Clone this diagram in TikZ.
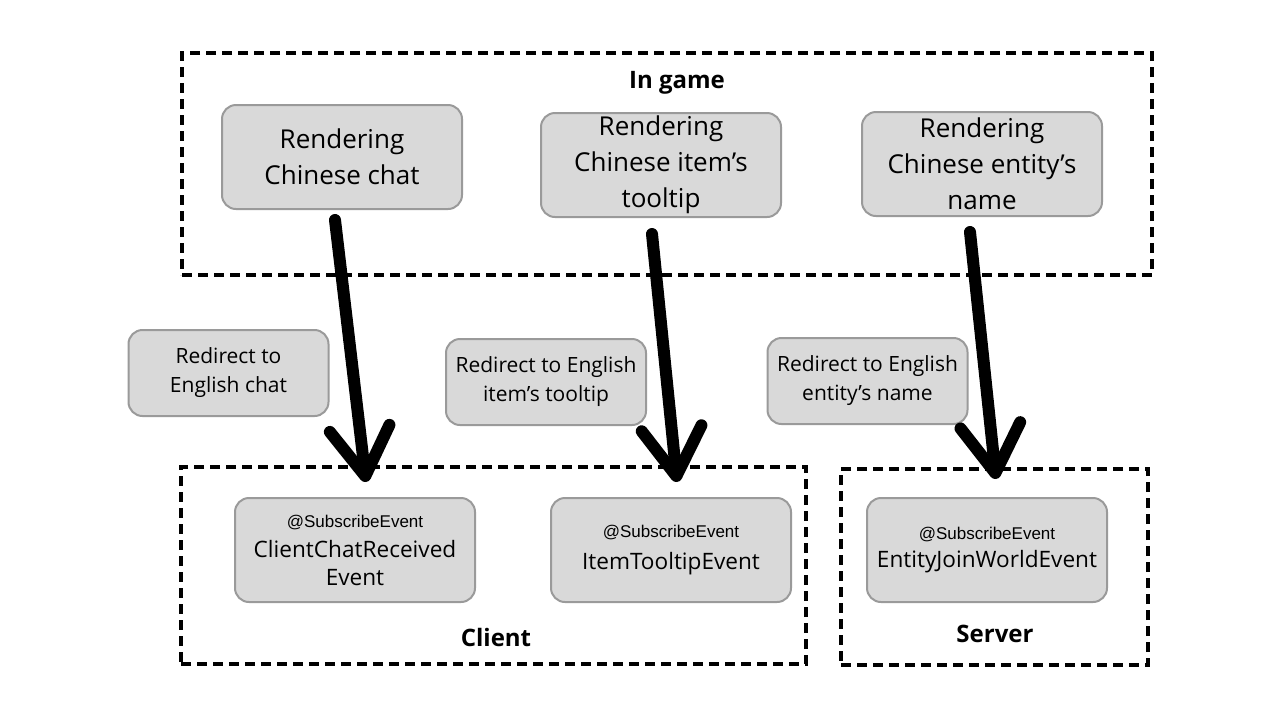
\documentclass[tikz,border=0pt]{standalone}
\usepackage{fontspec}
\setmainfont{Open Sans}
\newfontfamily\arialf{Liberation Sans}
\usetikzlibrary{arrows.meta}
\definecolor{boxfill}{HTML}{D9D9D9}
\definecolor{boxline}{HTML}{9A9A9A}
\begin{document}
\begin{tikzpicture}[x=0.5pt,y=-0.5pt,
  box/.style={draw=boxline, fill=boxfill, line width=1pt, rounded corners=7pt, inner sep=0pt, align=center},
  bigbox/.style={box, minimum width=120pt, minimum height=52pt, font=\fontsize{13}{18}\selectfont},
  redir/.style={box, minimum width=100pt, minimum height=43pt, font=\fontsize{10.5}{14.5}\selectfont},
  evbox/.style={box, minimum width=120pt, minimum height=52pt, font=\fontsize{11.3}{14}\selectfont},
  sub/.style={},
  group/.style={draw=black, line width=1.6pt, dash pattern=on 5pt off 3pt, inner sep=0pt},
  glabel/.style={font=\bfseries\fontsize{12}{14}\selectfont},
  bigarrow/.style={line width=6pt, line cap=round, -{Straight Barb[length=24pt, width=30pt, round]}}
]
\useasboundingbox (0,0) rectangle (1280,720);
\fill[white] (0,0) rectangle (1280,720);

% groups
\node[group, minimum width=485pt, minimum height=111pt] (ingame) at (667,164) {};
\node[glabel] (ingamelbl) at (677,83) {In game};
\node[group, minimum width=312.5pt, minimum height=98.5pt] (client) at (493.5,565.5) {};
\node[glabel] (clientlbl) at (496,637) {Client};
\node[group, minimum width=153.5pt, minimum height=98pt] (server) at (994.5,567) {};
\node[glabel] (serverlbl) at (995,634) {Server};

% in game boxes
\node[bigbox] (r1) at (342,157) {Rendering\\Chinese chat};
\node[bigbox] (r2) at (661,165) {Rendering\\Chinese item’s\\tooltip};
\node[bigbox] (r3) at (982,164) {Rendering\\Chinese entity’s\\name};

% redirect boxes
\node[redir] (d1) at (228.5,373) {Redirect to\\English chat};
\node[redir] (d2) at (546,382) {Redirect to English\\item’s tooltip};
\node[redir] (d3) at (867.5,381) {Redirect to English\\entity’s name};

% event boxes
\node[evbox] (e1) at (355,550) {{\arialf\fontsize{8.5}{10}\selectfont @SubscribeEvent}\\[1pt]ClientChatReceived\\Event};
\node[evbox] (e2) at (671,550) {{\arialf\fontsize{8.5}{10}\selectfont @SubscribeEvent}\\[2pt]ItemTooltipEvent};
\node[evbox] (e3) at (987,550) {{\arialf\fontsize{8.5}{10}\selectfont @SubscribeEvent}\\[0pt]EntityJoinWorldEvent};

% arrows
\coordinate (a1s) at (335,220);
\coordinate (a1e) at (366,482);
\coordinate (a2s) at (652,234);
\coordinate (a2e) at (677,482);
\coordinate (a3s) at (970,232);
\coordinate (a3e) at (996,479);
\draw[bigarrow] (a1s) -- (a1e);
\draw[bigarrow] (a2s) -- (a2e);
\draw[bigarrow] (a3s) -- (a3e);
\end{tikzpicture}
\end{document}
